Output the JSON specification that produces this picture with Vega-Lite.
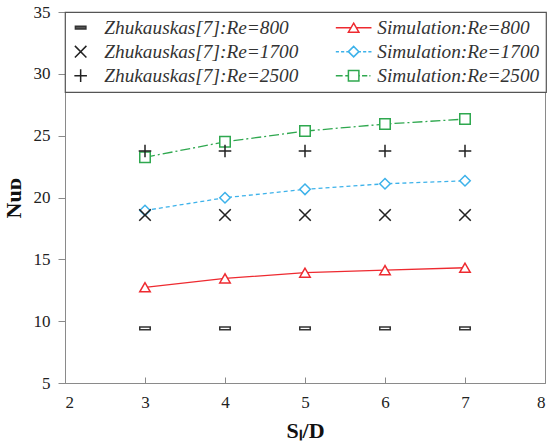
{
  "$schema": "https://vega.github.io/schema/vega-lite/v6.json",
  "autosize": {"type": "none"},
  "width": 480,
  "height": 371,
  "padding": {"left": 65, "top": 12, "right": 3, "bottom": 60},
  "background": "white",
  "data": {
    "values": [
      {"series": "Zhukauskas[7]:Re=800", "x": 3, "y": 9.42},
      {"series": "Zhukauskas[7]:Re=800", "x": 4, "y": 9.42},
      {"series": "Zhukauskas[7]:Re=800", "x": 5, "y": 9.42},
      {"series": "Zhukauskas[7]:Re=800", "x": 6, "y": 9.42},
      {"series": "Zhukauskas[7]:Re=800", "x": 7, "y": 9.42},
      {"series": "Zhukauskas[7]:Re=1700", "x": 3, "y": 18.58},
      {"series": "Zhukauskas[7]:Re=1700", "x": 4, "y": 18.58},
      {"series": "Zhukauskas[7]:Re=1700", "x": 5, "y": 18.58},
      {"series": "Zhukauskas[7]:Re=1700", "x": 6, "y": 18.58},
      {"series": "Zhukauskas[7]:Re=1700", "x": 7, "y": 18.58},
      {"series": "Zhukauskas[7]:Re=2500", "x": 3, "y": 23.76},
      {"series": "Zhukauskas[7]:Re=2500", "x": 4, "y": 23.76},
      {"series": "Zhukauskas[7]:Re=2500", "x": 5, "y": 23.76},
      {"series": "Zhukauskas[7]:Re=2500", "x": 6, "y": 23.76},
      {"series": "Zhukauskas[7]:Re=2500", "x": 7, "y": 23.76},
      {"series": "Simulation:Re=800", "x": 3, "y": 12.74},
      {"series": "Simulation:Re=800", "x": 4, "y": 13.46},
      {"series": "Simulation:Re=800", "x": 5, "y": 13.92},
      {"series": "Simulation:Re=800", "x": 6, "y": 14.13},
      {"series": "Simulation:Re=800", "x": 7, "y": 14.32},
      {"series": "Simulation:Re=1700", "x": 3, "y": 18.95},
      {"series": "Simulation:Re=1700", "x": 4, "y": 19.98},
      {"series": "Simulation:Re=1700", "x": 5, "y": 20.66},
      {"series": "Simulation:Re=1700", "x": 6, "y": 21.11},
      {"series": "Simulation:Re=1700", "x": 7, "y": 21.35},
      {"series": "Simulation:Re=2500", "x": 3, "y": 23.25},
      {"series": "Simulation:Re=2500", "x": 4, "y": 24.5},
      {"series": "Simulation:Re=2500", "x": 5, "y": 25.37},
      {"series": "Simulation:Re=2500", "x": 6, "y": 25.94},
      {"series": "Simulation:Re=2500", "x": 7, "y": 26.34}
    ]
  },
  "encoding": {
    "x": {
      "field": "x", "type": "quantitative",
      "scale": {"domain": [2, 8], "nice": false},
      "axis": {"values": [2, 3, 4, 5, 6, 7, 8], "title": "Sₗ/D", "tickSize": -6, "labelPadding": 17, "titlePadding": 10}
    },
    "y": {
      "field": "y", "type": "quantitative",
      "scale": {"domain": [5, 35], "nice": false},
      "axis": {"values": [5, 10, 15, 20, 25, 30, 35], "title": "Nuᴅ", "tickSize": 7, "labelPadding": 8, "titlePadding": 8}
    }
  },
  "resolve": {"scale": {"shape": "independent", "stroke": "independent"}, "legend": {"shape": "independent", "stroke": "independent"}},
  "layer": [
    {
      "transform": [{"filter": "datum.series === 'Simulation:Re=800'"}],
      "mark": {"type": "line", "stroke": "#ee2a30", "strokeWidth": 1.3}
    },
    {
      "transform": [{"filter": "datum.series === 'Simulation:Re=1700'"}],
      "mark": {"type": "line", "stroke": "#3db2ea", "strokeWidth": 1.3, "strokeDash": [4, 3]}
    },
    {
      "transform": [{"filter": "datum.series === 'Simulation:Re=2500'"}],
      "mark": {"type": "line", "stroke": "#2fa84f", "strokeWidth": 1.3, "strokeDash": [10, 3, 2, 3]}
    },
    {
      "transform": [{"filter": "indexof(datum.series, 'Simulation') === 0"}],
      "mark": {"type": "point", "filled": true, "fill": "white", "fillOpacity": 1, "strokeWidth": 1.5, "opacity": 1, "size": 110},
      "encoding": {
        "shape": {"field": "series", "type": "nominal", "legend": null,
          "scale": {"domain": ["Simulation:Re=800", "Simulation:Re=1700", "Simulation:Re=2500"], "range": ["triangle-up", "diamond", "square"]}},
        "stroke": {"field": "series", "type": "nominal", "legend": null,
          "scale": {"domain": ["Simulation:Re=800", "Simulation:Re=1700", "Simulation:Re=2500"], "range": ["#ee2a30", "#3db2ea", "#2fa84f"]}}
      }
    },
    {
      "transform": [{"filter": "indexof(datum.series, 'Zhukauskas') === 0"}],
      "mark": {"type": "point", "filled": false, "strokeWidth": 1.5, "opacity": 1, "size": 110},
      "encoding": {
        "shape": {"field": "series", "type": "nominal", "legend": null,
          "scale": {"domain": ["Zhukauskas[7]:Re=800", "Zhukauskas[7]:Re=1700", "Zhukauskas[7]:Re=2500"], "range": ["M-1,-0.25H1V0.25H-1Z", "M-1.1,-1.1L1.1,1.1M-1.1,1.1L1.1,-1.1", "M-1.2,0H1.2M0,-1.2V1.2"]}},
        "stroke": {"field": "series", "type": "nominal", "legend": null,
          "scale": {"domain": ["Zhukauskas[7]:Re=800", "Zhukauskas[7]:Re=1700", "Zhukauskas[7]:Re=2500"], "range": ["#333333", "#222222", "#222222"]}}
      }
    },
    {
      "transform": [{"filter": "false"}],
      "mark": {"type": "point", "filled": false, "strokeWidth": 1.5, "opacity": 1, "size": 110},
      "encoding": {
        "shape": {"field": "series", "type": "nominal",
          "scale": {"domain": ["Zhukauskas[7]:Re=800", "Zhukauskas[7]:Re=1700", "Zhukauskas[7]:Re=2500", "Simulation:Re=800", "Simulation:Re=1700", "Simulation:Re=2500"],
            "range": ["M-1,-0.25H1V0.25H-1Z", "M-1.1,-1.1L1.1,1.1M-1.1,1.1L1.1,-1.1", "M-1.2,0H1.2M0,-1.2V1.2", "M-3.4,0H-0.5M0.5,0H3.4M0,-0.866L1,0.866L-1,0.866Z", "M-3.4,0H-2.8M-2.4,0H-1.8M-1.4,0H-1M1,0H1.4M1.8,0H2.4M2.8,0H3.4M-1,0L0,-1L1,0L0,1Z", "M-3.4,0H-2.1M-1.6,0H-1M1,0H1.2M1.6,0H2.6M3,0H3.2M-1,-1H1V1H-1Z"]},
          "legend": {
            "title": null,
            "orient": "none", "legendX": 0, "legendY": 0,
            "columns": 2,
            "encoding": {
              "symbols": {
                "fill": {"value": {"expr": "datum.value === 'Zhukauskas[7]:Re=800' ? '#555' : 'transparent'"}},
                "fillOpacity": {"value": 1},
                "opacity": {"value": 1},
                "size": {"value": 110},
                "strokeWidth": {"value": 1.5}
              }
            }
          }
        },
        "stroke": {"field": "series", "type": "nominal",
          "scale": {"domain": ["Zhukauskas[7]:Re=800", "Zhukauskas[7]:Re=1700", "Zhukauskas[7]:Re=2500", "Simulation:Re=800", "Simulation:Re=1700", "Simulation:Re=2500"], "range": ["#333333", "#222222", "#222222", "#ee2a30", "#3db2ea", "#2fa84f"]}}
      }
    }
  ],
  "config": {
    "view": {"stroke": "#8a8a8a", "strokeWidth": 1},
    "axis": {
      "grid": false,
      "domainColor": "#8a8a8a",
      "tickColor": "#8a8a8a",
      "labelFont": "Liberation Serif",
      "labelFontSize": 17,
      "labelColor": "#222",
      "titleFont": "Liberation Serif",
      "titleFontSize": 22,
      "titleFontWeight": "bold",
      "titleColor": "#111"
    },
    "legend": {
      "fillColor": "white",
      "strokeColor": "#555",
      "strokeWidth": 1.2,
      "padding": 6,
      "labelFont": "Liberation Serif",
      "labelFontStyle": "italic",
      "labelFontSize": 19.3,
      "labelColor": "#333",
      "labelLimit": 400,
      "symbolSize": 110,
      "symbolStrokeWidth": 1.5,
      "symbolOffset": 0,
      "labelOffset": 14,
      "columnPadding": 33,
      "rowPadding": 4
    }
  }
}
